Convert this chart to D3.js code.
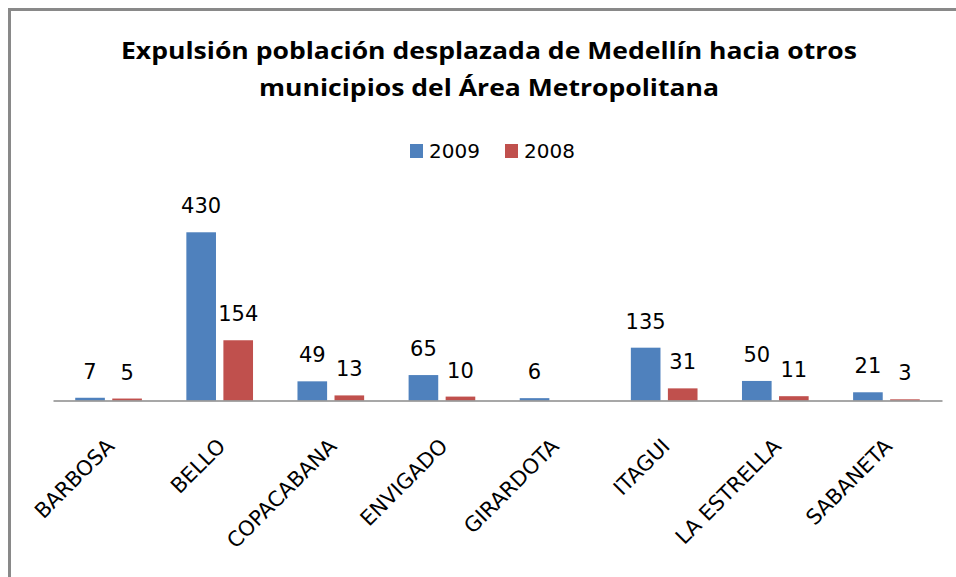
<!DOCTYPE html>
<html lang="es">
  <head>
    <meta charset="UTF-8" />
    <title>Expulsión población desplazada</title>
    <script src="https://cdn.jsdelivr.net/npm/d3@7"></script>
    <style>
      body { margin: 0; background: #fff; }
      svg { display: block; }
    </style>
  </head>
  <body>
    <div id="chart"></div>
    <script>
      // data
      const categories = ['BARBOSA', 'BELLO', 'COPACABANA', 'ENVIGADO', 'GIRARDOTA', 'ITAGUI', 'LA ESTRELLA', 'SABANETA']
      const values2009 = [7, 430, 49, 65, 6, 135, 50, 21]
      const values2008 = [5, 154, 13, 10, null, 31, 11, 3]
      const seriesNames = ['2009', '2008']
      const titleLines = ['Expulsión población desplazada de Medellín hacia otros', 'municipios del Área Metropolitana']

      const width = 956
      const height = 577
      const colors = { '2009': '#4F81BD', '2008': '#C0504D' }
      const numFont = '"DejaVu Sans", sans-serif'

      const svg = d3.select('#chart').append('svg').attr('width', width).attr('height', height)

      // outer frame (only top and left edges visible)
      svg.append('path')
        .attr('d', `M9.5,${height + 5}V9.5H${width + 5}`)
        .attr('fill', 'none')
        .attr('stroke', '#898989')
        .attr('stroke-width', 3)

      // title, stretched a bit to the width of the original lines
      const titleWidths = [736, 460]
      const title = svg.append('text')
        .attr('text-anchor', 'middle')
        .attr('font-family', '"Open Sans", sans-serif')
        .attr('font-weight', 'bold')
        .attr('font-size', 23)
        .attr('fill', '#000')
      title.selectAll('tspan')
        .data(titleLines)
        .join('tspan')
        .attr('x', 489)
        .attr('y', (d, i) => 59 + i * 37)
        .attr('textLength', (d, i) => titleWidths[i])
        .attr('lengthAdjust', 'spacingAndGlyphs')
        .text(d => d)

      // legend
      const legend = svg.append('g').attr('font-family', numFont).attr('font-size', 20)
      const legendX = [410, 505]
      seriesNames.forEach((s, i) => {
        legend.append('rect')
          .attr('x', legendX[i]).attr('y', 144)
          .attr('width', 13).attr('height', 14)
          .attr('fill', colors[s])
        legend.append('text')
          .attr('x', legendX[i] + 19).attr('y', 158)
          .attr('fill', '#000')
          .text(s)
      })

      // scales
      const plotLeft = 53, plotRight = 942, baseY = 400.5
      const x = d3.scaleBand().domain(categories).range([plotLeft, plotRight]).padding(0)
      const xInner = d3.scaleBand().domain(seriesNames).range([0, x.bandwidth()])
        .paddingInner(0.2).paddingOuter(0.6)
      const y = d3.scaleLinear().domain([0, 500]).range([baseY, baseY - 500 * 0.3912])

      const rows = categories.map((c, i) => ({
        cat: c,
        vals: [
          { key: '2009', v: values2009[i] },
          { key: '2008', v: values2008[i] }
        ]
      }))

      const groups = svg.append('g')
        .selectAll('g')
        .data(rows)
        .join('g')
        .attr('transform', d => `translate(${x(d.cat)},0)`)

      groups.selectAll('rect')
        .data(d => d.vals.filter(e => e.v != null))
        .join('rect')
        .attr('x', d => xInner(d.key))
        .attr('width', xInner.bandwidth())
        .attr('y', d => y(d.v))
        .attr('height', d => y(0) - y(d.v))
        .attr('fill', d => colors[d.key])

      groups.selectAll('text')
        .data(d => d.vals.filter(e => e.v != null))
        .join('text')
        .attr('x', d => xInner(d.key) + xInner.bandwidth() / 2)
        .attr('y', d => y(d.v) - 19)
        .attr('text-anchor', 'middle')
        .attr('font-family', numFont)
        .attr('font-size', 21)
        .attr('fill', '#000')
        .text(d => d.v)

      // x axis
      const xAxis = svg.append('g')
        .attr('transform', `translate(0,${baseY})`)
        .call(d3.axisBottom(x).tickSize(0).tickSizeOuter(0))
      xAxis.select('.domain').attr('stroke', '#8a8a8a').attr('stroke-width', 1.5)
      xAxis.selectAll('text')
        .attr('font-family', numFont)
        .attr('font-size', 21)
        .attr('fill', '#000')
        .attr('text-anchor', 'end')
        .attr('x', 0).attr('y', 0).attr('dy', 0)
        .attr('transform', 'translate(7,47) rotate(-45)')
    </script>
  </body>
</html>
